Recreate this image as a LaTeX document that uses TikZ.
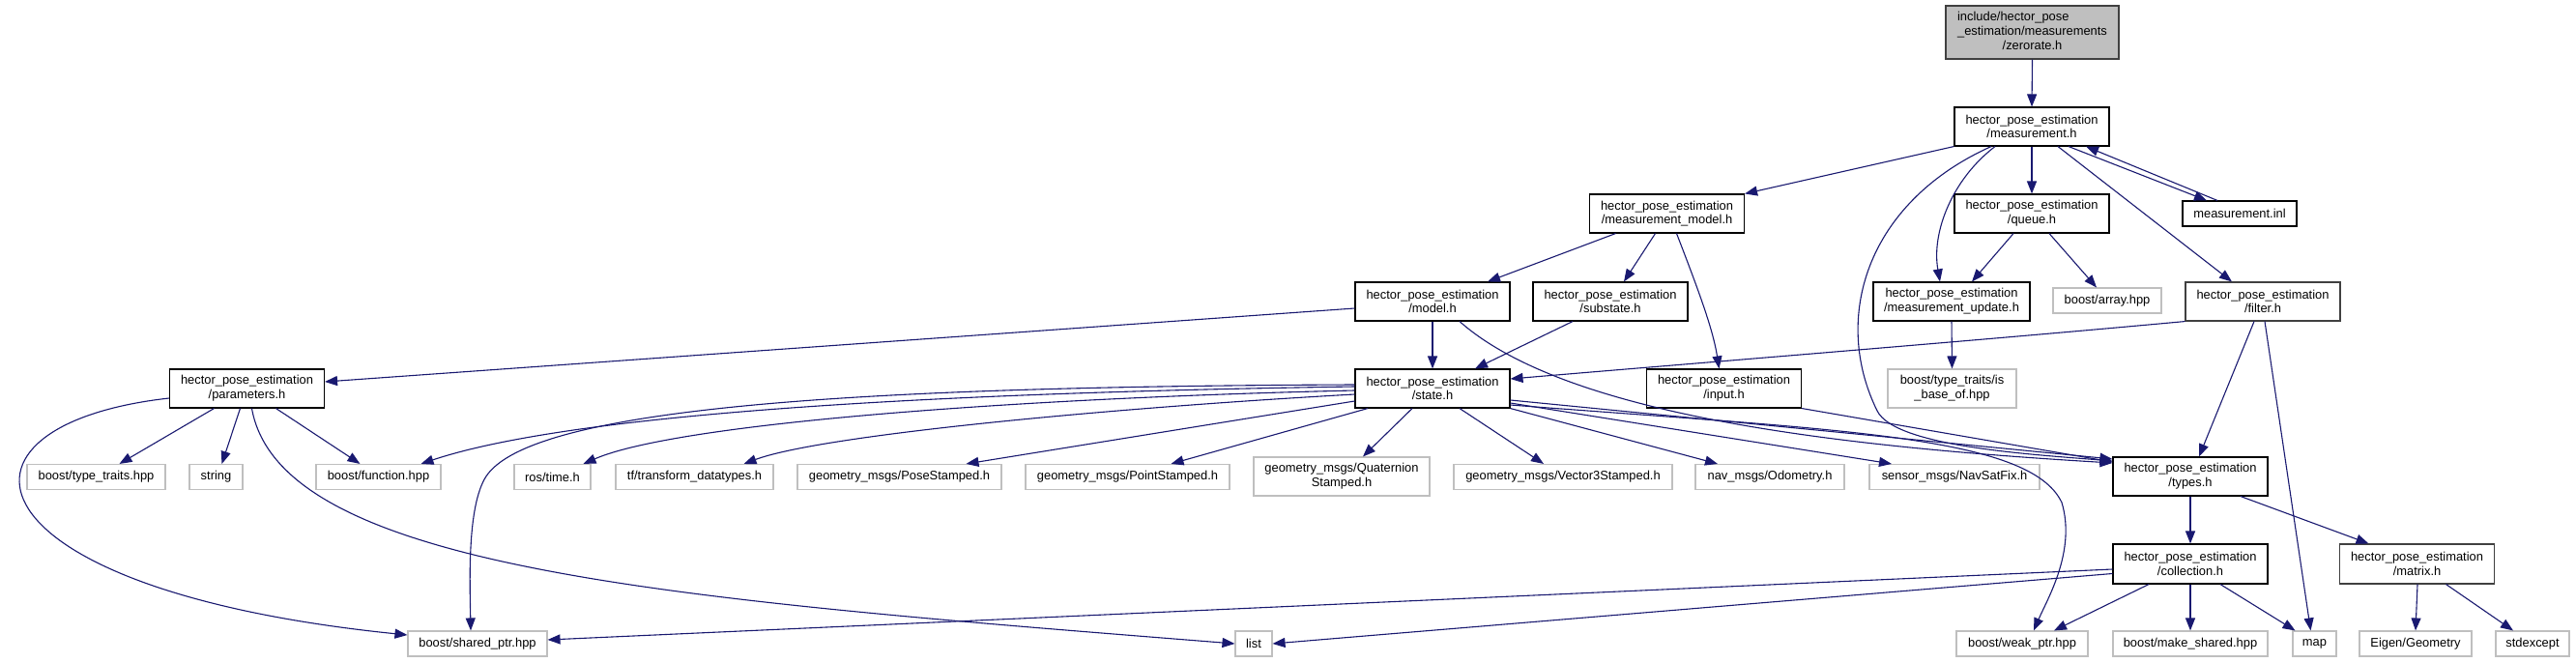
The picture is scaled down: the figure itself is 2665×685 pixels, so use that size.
\documentclass[tikz,border=0pt]{standalone}
\usepackage{fontspec}
\setmainfont{Liberation Sans}
\usetikzlibrary{arrows.meta,calc}
\definecolor{edgeblue}{HTML}{191970}
\definecolor{grayfill}{HTML}{BFBFBF}
\definecolor{graybord}{HTML}{BFBFBF}
\definecolor{darkbord}{HTML}{404040}
\begin{document}
\begin{tikzpicture}[x=1pt,y=-1pt,
  every node/.style={font=\fontsize{12.9}{14.7}\selectfont, inner sep=0pt, align=center},
  docbox/.style={draw=black, line width=1.1pt, fill=white, minimum width=160pt, minimum height=40pt},
  darkbox/.style={draw=darkbord, line width=1.1pt, fill=white, minimum width=160pt, minimum height=40pt},
  rootbox/.style={draw=darkbord, line width=1.1pt, fill=grayfill, minimum width=179pt, minimum height=55pt},
  extbox/.style={draw=graybord, line width=1.1pt, fill=white, minimum height=26pt},
  dep/.style={draw=edgeblue, line width=1.1pt, -{Triangle[length=13pt,width=10pt]}}
]
\fill[white] (0,0) rectangle (2665,685);
\useasboundingbox (0,0) rectangle (2665,685);

% nodes
\node[rootbox] (zer) at (2102.5,33.5) {\begin{tabular}{@{}l@{}}include/hector\_pose\\\_estimation/measurements\\\multicolumn{1}{@{}c@{}}{/zerorate.h}\end{tabular}};
\node[docbox] (meas) at (2102,131) {hector\_pose\_estimation\\/measurement.h};
\node[docbox] (mmodel) at (1724.5,221) {hector\_pose\_estimation\\/measurement\_model.h};
\node[docbox] (queue) at (2102,221) {hector\_pose\_estimation\\/queue.h};
\node[docbox, minimum width=118pt, minimum height=26pt] (minl) at (2317,221) {measurement.inl};
\node[docbox] (model) at (1482,312) {hector\_pose\_estimation\\/model.h};
\node[docbox] (substate) at (1666,312) {hector\_pose\_estimation\\/substate.h};
\node[docbox, minimum width=162pt] (mupdate) at (2019,312) {hector\_pose\_estimation\\/measurement\_update.h};
\node[extbox, minimum width=112pt] (array) at (2180,311) {boost/array.hpp};
\node[darkbox] (filter) at (2341,312) {hector\_pose\_estimation\\/filter.h};
\node[docbox] (params) at (255.5,402) {hector\_pose\_estimation\\/parameters.h};
\node[docbox] (state) at (1482,402) {hector\_pose\_estimation\\/state.h};
\node[docbox] (input) at (1783.5,402) {hector\_pose\_estimation\\/input.h};
\node[extbox, minimum width=133pt, minimum height=40pt] (isbase) at (2019.5,402) {boost/type\_traits/is\\\_base\_of.hpp};
\node[docbox] (types) at (2266,493) {hector\_pose\_estimation\\/types.h};
\node[extbox, minimum width=143pt] (typetraits) at (99.5,493.5) {boost/type\_traits.hpp};
\node[extbox, minimum width=55pt] (string) at (223.5,493.5) {string};
\node[extbox, minimum width=129pt] (function) at (391.5,493.5) {boost/function.hpp};
\node[extbox, minimum width=79pt] (rostime) at (571.5,493.5) {ros/time.h};
\node[extbox, minimum width=163pt] (tf) at (718.5,493.5) {tf/transform\_datatypes.h};
\node[extbox, minimum width=211pt] (pose) at (930.5,493.5) {geometry\_msgs/PoseStamped.h};
\node[extbox, minimum width=211pt] (point) at (1166.5,493.5) {geometry\_msgs/PointStamped.h};
\node[extbox, minimum width=182pt, minimum height=40pt] (quat) at (1388,493) {geometry\_msgs/Quaternion\\Stamped.h};
\node[extbox, minimum width=226pt] (vec3) at (1617,493.5) {geometry\_msgs/Vector3Stamped.h};
\node[extbox, minimum width=154pt] (odom) at (1831,493.5) {nav\_msgs/Odometry.h};
\node[extbox, minimum width=176pt] (navsat) at (2022,493.5) {sensor\_msgs/NavSatFix.h};
\node[docbox, minimum height=41pt] (collection) at (2266,583.5) {hector\_pose\_estimation\\/collection.h};
\node[darkbox, minimum height=41pt] (matrix) at (2500.5,583.5) {hector\_pose\_estimation\\/matrix.h};
\node[extbox, minimum width=144pt] (sharedptr) at (494,666) {boost/shared\_ptr.hpp};
\node[extbox, minimum width=38pt] (list) at (1297,666) {list};
\node[extbox, minimum width=136pt] (weakptr) at (2092,666) {boost/weak\_ptr.hpp};
\node[extbox, minimum width=160pt] (makeshared) at (2266,666) {boost/make\_shared.hpp};
\node[extbox, minimum width=45pt] (map) at (2394.5,666) {map};
\node[extbox, minimum width=116pt] (eigen) at (2499,666) {Eigen/Geometry};
\node[extbox, minimum width=76pt] (stdexcept) at (2620,666) {stdexcept};

% edges from zerorate / measurement.h
\draw[dep] (zer.south) -- (meas.north);
\draw[dep] (meas.south west) -- (mmodel.north east);
\draw[dep] (meas.south) -- (queue.north);
\draw[dep] ([xshift=38pt]meas.south) -- ([xshift=-34pt]minl.north);
\draw[dep] ([xshift=-23pt]minl.north) -- ([xshift=56pt]meas.south);
\draw[dep] ([xshift=-38pt]meas.south) .. controls (2020,185) and (1998,240) .. ([xshift=-12pt]mupdate.north);
\draw[dep] ([xshift=-42pt]meas.south) .. controls (1930,210) and (1895,330) .. (1942,425) .. controls (1960,462) and (2100,470) .. ([yshift=16pt]types.west);
\draw[dep] ([xshift=27pt]meas.south) -- ([xshift=-32pt]filter.north);

% measurement_model.h
\draw[dep] ([xshift=-53pt]mmodel.south) -- ([xshift=57pt]model.north);
\draw[dep] ([xshift=-12pt]mmodel.south) -- ([xshift=14pt]substate.north);
\draw[dep] ([xshift=10pt]mmodel.south) .. controls (1757,300) and (1772,340) .. ([xshift=-5pt]input.north);

% model.h
\draw[dep] (model.south) -- (state.north);
\draw[dep] ([yshift=-7pt]model.west) -- ([yshift=7pt]params.east);
\draw[dep] ([xshift=28pt]model.south) .. controls (1620,430) and (1900,462) .. ([yshift=14pt]types.west);

% substate, queue, update, filter, input
\draw[dep] ([xshift=-39pt]substate.south) -- ([xshift=44pt]state.north);
\draw[dep] ([xshift=-19pt]queue.south) -- ([xshift=21pt]mupdate.north);
\draw[dep] ([xshift=18pt]queue.south) -- ([xshift=-11pt]array.north);
\draw[dep] (mupdate.south) -- (isbase.north);
\draw[dep] (filter.south west) .. controls (2050,352) and (1800,372) .. ([yshift=10pt]state.east);
\draw[dep] ([xshift=-9pt]filter.south) -- ([xshift=9pt]types.north);
\draw[dep] ([xshift=2pt]filter.south) -- ([xshift=-4pt]map.north);
\draw[dep] (input.south east) -- ([yshift=15pt]types.west);

% state.h
\draw[dep] ([yshift=4pt]state.west) .. controls (900,400) and (560,420) .. (505,490) .. controls (483,518) and (486,600) .. ([xshift=-7pt]sharedptr.north);
\draw[dep] ([yshift=2pt]state.west) .. controls (1000,406) and (600,425) .. ([xshift=44pt]function.north);
\draw[dep] ([yshift=-2pt]state.west) .. controls (1050,412) and (700,438) .. ([xshift=32pt]rostime.north);
\draw[dep] ([yshift=-6pt]state.west) .. controls (1150,422) and (850,450) .. ([xshift=51pt]tf.north);
\draw[dep] ([yshift=-13pt]state.west) -- ([xshift=69pt]pose.north);
\draw[dep] ([xshift=-67pt]state.south) -- ([xshift=45pt]point.north);
\draw[dep] ([xshift=-21pt]state.south) -- ([xshift=22pt]quat.north);
\draw[dep] ([xshift=28pt]state.south) -- ([xshift=-20pt]vec3.north);
\draw[dep] (state.south east) -- ([xshift=-54pt]odom.north);
\draw[dep] ([yshift=-15pt]state.east) -- ([xshift=-65pt]navsat.north);
\draw[dep] ([yshift=-12pt]state.east) -- ([yshift=18pt]types.west);
\draw[dep] ([yshift=-17pt]state.east) .. controls (1900,445) and (2100,450) .. (2133,520) .. controls (2148,570) and (2118,620) .. ([xshift=12pt]weakptr.north);

% parameters.h
\draw[dep] ([xshift=-34pt]params.south) -- ([xshift=24pt]typetraits.north);
\draw[dep] ([xshift=-7pt]params.south) -- ([xshift=6pt]string.north);
\draw[dep] ([xshift=30pt]params.south) -- ([xshift=-19pt]function.north);
\draw[dep] ([yshift=-10pt]params.west) .. controls (-75,440) and (-40,610) .. ([yshift=9pt]sharedptr.west);
\draw[dep] ([xshift=5pt]params.south) .. controls (290,590) and (700,620) .. (list.west);

% types.h, collection.h, matrix.h
\draw[dep] (types.south) -- (collection.north);
\draw[dep] ([xshift=52pt]types.south) -- ([xshift=-50pt]matrix.north);
\draw[dep] ([yshift=-5.5pt]collection.west) -- ([yshift=4pt]sharedptr.east);
\draw[dep] ([yshift=-10pt]collection.west) -- (list.east);
\draw[dep] ([xshift=-43pt]collection.south) -- ([xshift=33pt]weakptr.north);
\draw[dep] (collection.south) -- (makeshared.north);
\draw[dep] ([xshift=31pt]collection.south) -- ([xshift=-20pt]map.north);
\draw[dep] ([xshift=0.5pt]matrix.south) -- (eigen.north);
\draw[dep] ([xshift=30pt]matrix.south) -- ([xshift=-20pt]stdexcept.north);
\end{tikzpicture}
\end{document}
